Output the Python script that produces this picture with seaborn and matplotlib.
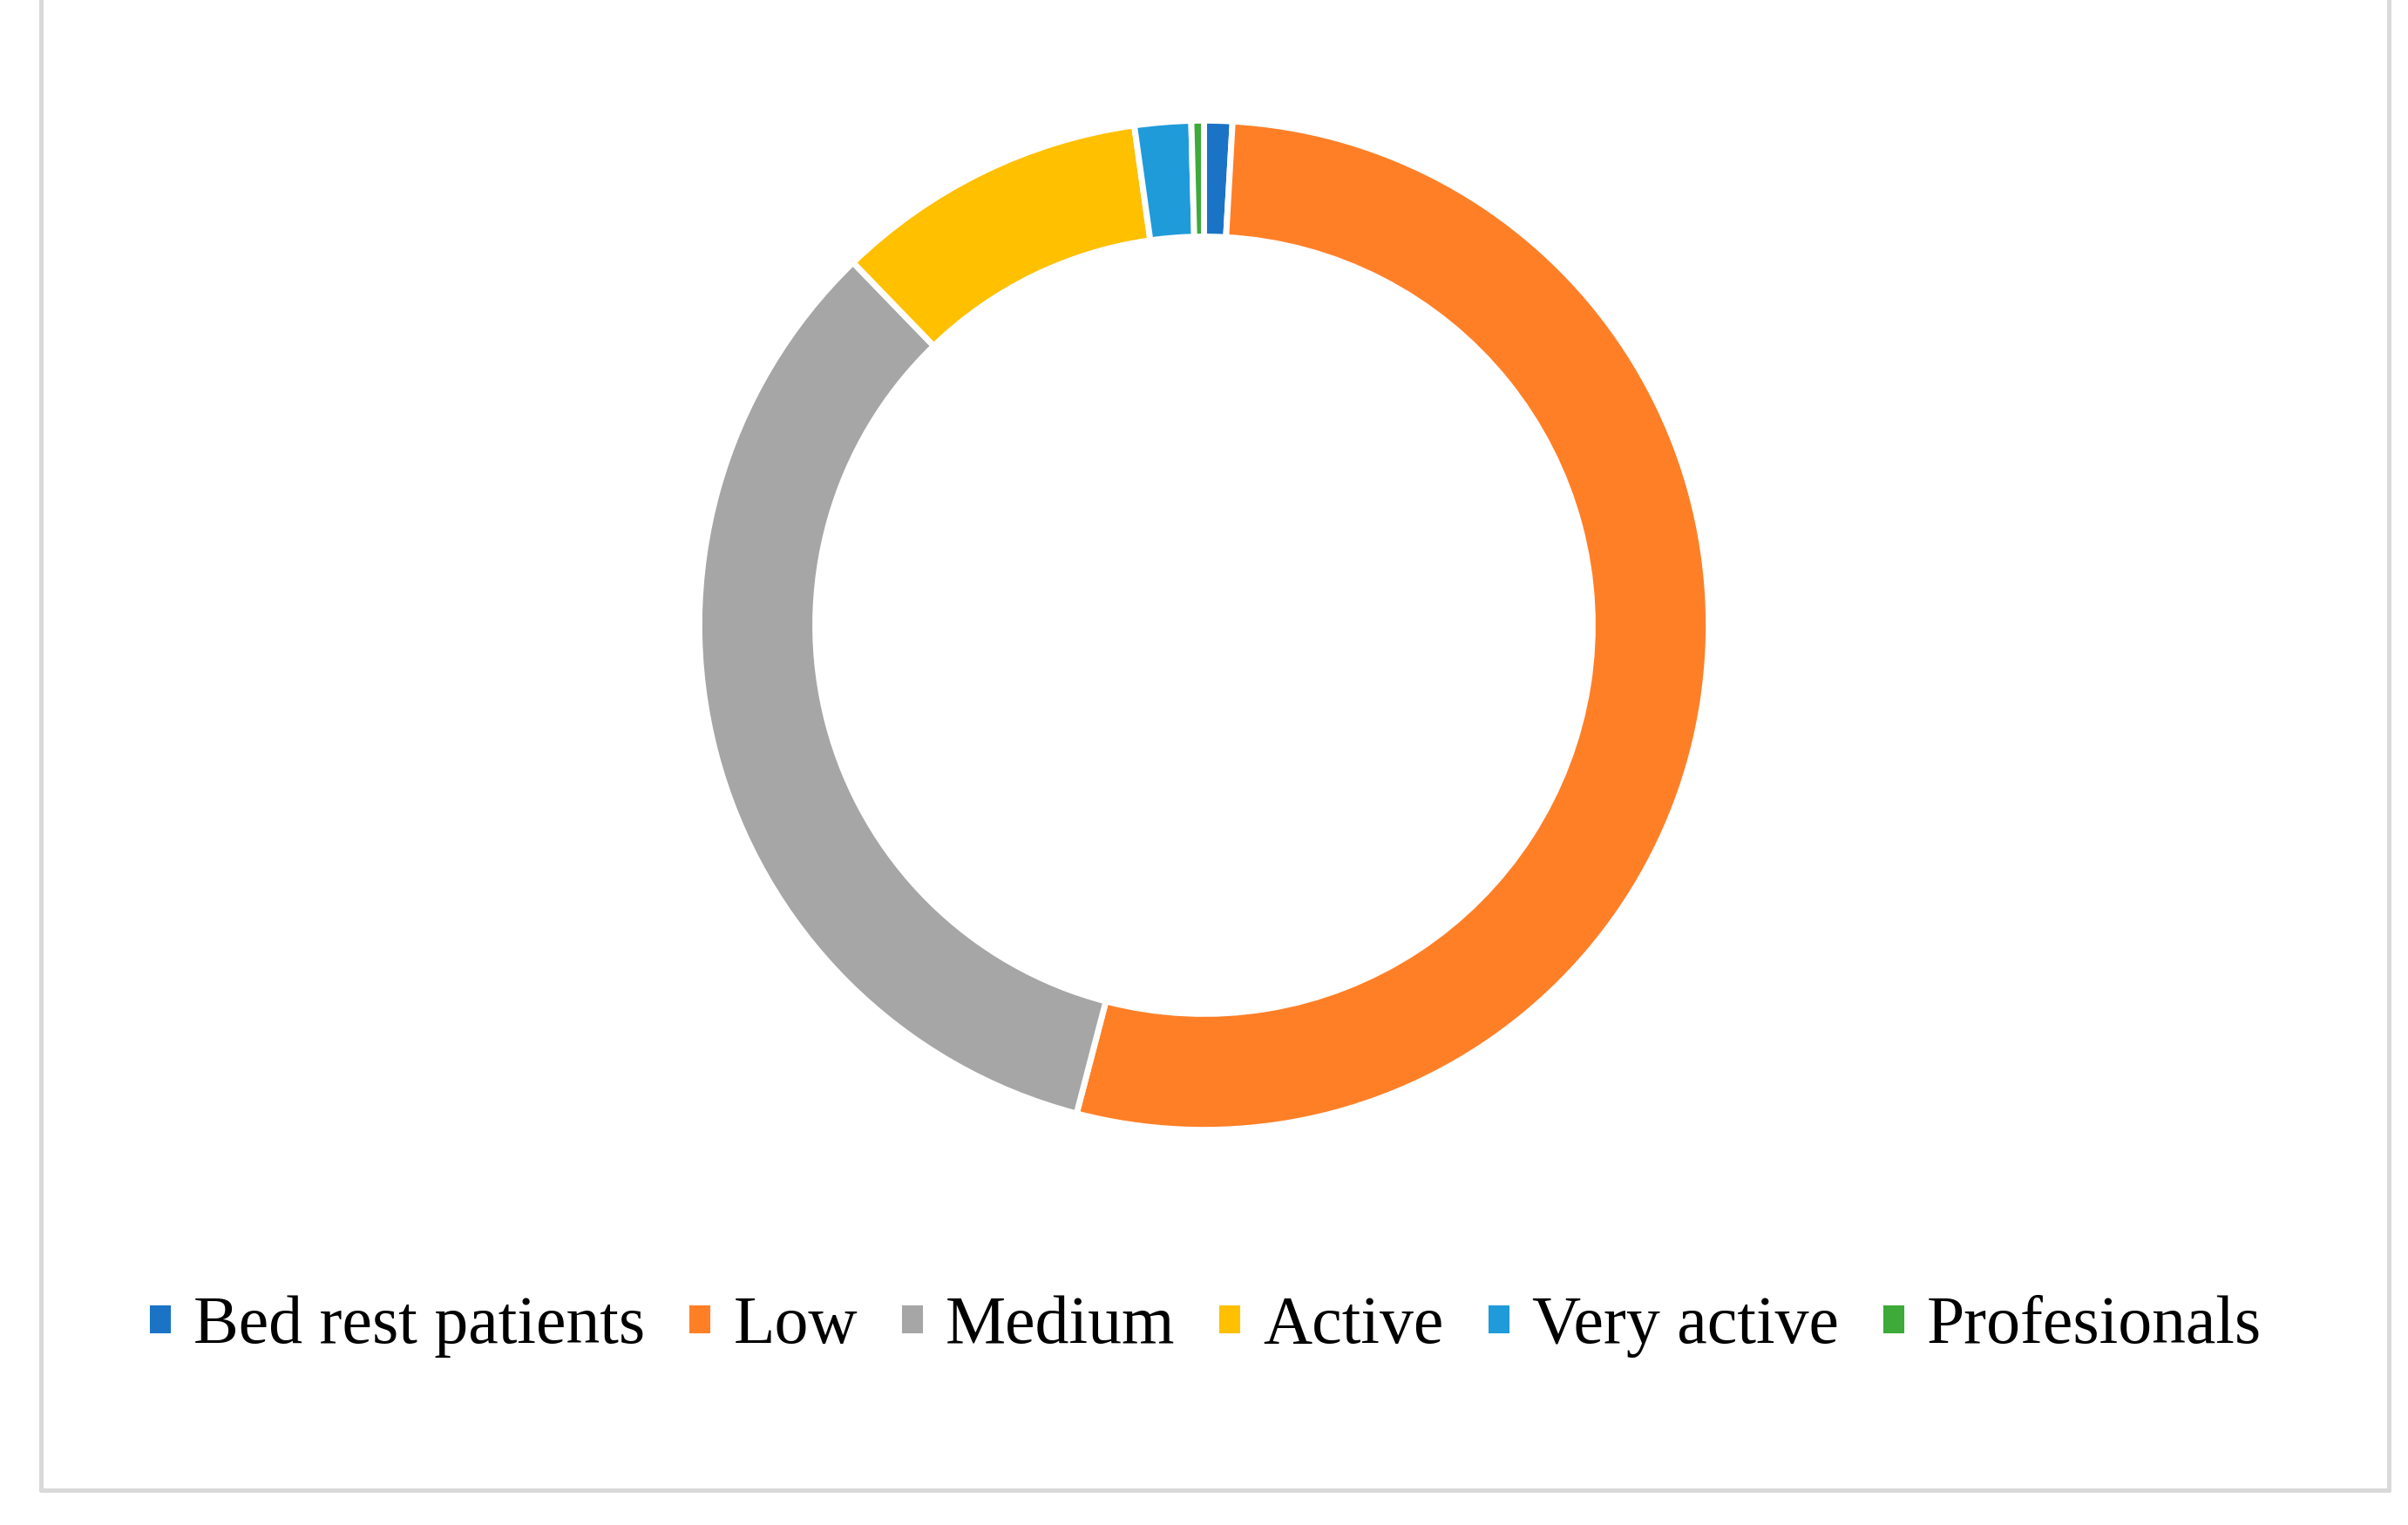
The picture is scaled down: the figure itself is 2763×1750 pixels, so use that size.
import matplotlib
matplotlib.use("Agg")
import matplotlib.pyplot as plt
import seaborn as sns

# Activity levels (share in %, read from the donut)
categories = ["Bed rest patients", "Low", "Medium", "Active", "Very active", "Profesionals"]
shares = [0.9, 53.0, 33.6, 10.0, 1.8, 0.4]
colors = ["#1B73C6", "#FF7F27", "#A6A6A6", "#FFC000", "#1F9BDA", "#3DAA3A"]

sns.set_theme(style="white")
plt.rcParams["font.family"] = ["Liberation Serif", "DejaVu Serif"]

fig = plt.figure(figsize=(27.63, 17.5), dpi=100)
ax = fig.add_axes([0.238, 0.176, 0.524, 0.828])

wedges, _ = ax.pie(shares, colors=colors, startangle=90, counterclock=False,
                   wedgeprops=dict(width=0.23, edgecolor="white", linewidth=5))
ax.set_aspect("equal")

fig.legend(wedges, categories, loc="center", bbox_to_anchor=(0.5, 0.13),
           ncol=6, frameon=False, fontsize=56, handlelength=0.4, handleheight=0.4,
           handletextpad=0.3, columnspacing=0.6, labelcolor="black")

# light gray frame (top edge cropped in the original)
border = dict(color="#D9D9D9", linewidth=3.6, transform=fig.transFigure)
fig.add_artist(plt.Line2D([0.017, 0.017], [0.023, 1.0], **border))
fig.add_artist(plt.Line2D([0.992, 0.992], [0.023, 1.0], **border))
fig.add_artist(plt.Line2D([0.017, 0.992], [0.023, 0.023], **border))

fig.savefig("out.png", dpi=100)
